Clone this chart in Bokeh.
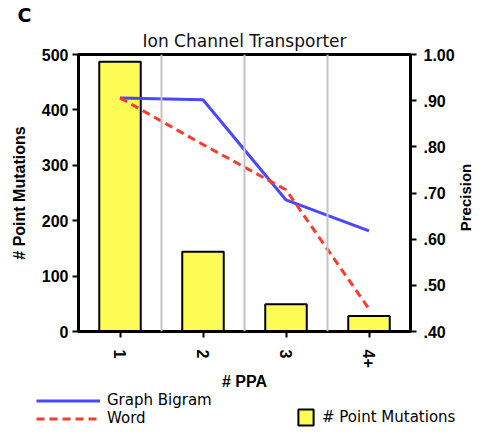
import math
from bokeh.plotting import figure
from bokeh.layouts import column, row
from bokeh.models import (Range1d, LinearAxis, FixedTicker, Span, Legend, LegendItem,
                          ColumnDataSource, FactorRange, Title, Label)
from bokeh.embed import file_html
from bokeh.resources import INLINE

categories = ["1", "2", "3", "4+"]
point_mutations = [487, 144, 49, 28]
graph_bigram = [0.906, 0.902, 0.685, 0.618]
word = [0.906, 0.805, 0.707, 0.449]
left_ticks = [0, 100, 200, 300, 400, 500]
right_ticks = [0.4, 0.5, 0.6, 0.7, 0.8, 0.9, 1.0]
right_tick_labels = [".40", ".50", ".60", ".70", ".80", ".90", "1.00"]

bar_style = dict(fill_color="#fcfc54", line_color="black", line_width=2)
gb_style = dict(line_color="#4848ff", line_width=3)
wd_style = dict(line_color="#ff3a2a", line_width=3, line_dash="8 5")

src = ColumnDataSource(dict(cat=categories, pm=point_mutations, gb=graph_bigram, wd=word))

W = 473
W3 = 16
H1 = 392
p = figure(width=W - W3, height=H1, x_range=FactorRange(*categories, range_padding=0),
           y_range=Range1d(0, 500), output_backend="svg", toolbar_location=None,
           min_border_left=78, min_border_right=W - W3 - 413, min_border_top=54,
           min_border_bottom=H1 - 336, title="C")
p.extra_y_ranges = {"prec": Range1d(0.4, 1.0)}

p.title.align = "left"
p.title.offset = -61
p.title.standoff = 0
p.title.text_font = "DejaVu Sans"
p.title.text_font_size = "19px"
p.title.text_font_style = "bold"
p.title.text_color = "black"
p.add_layout(Title(text="Ion Channel Transporter", align="center", standoff=7,
                   text_font="DejaVu Sans", text_font_style="normal", text_font_size="17px",
                   text_color="#111111"), "above")

p.outline_line_color = "black"
p.outline_line_width = 3
p.ygrid.grid_line_color = None
p.xgrid.grid_line_color = None

for i in range(1, len(categories)):
    p.add_layout(Span(location=i, dimension="height", line_color="#c4c4c4", line_width=2))

bars = p.vbar(x="cat", top="pm", width=0.5, source=src, **bar_style)
l1 = p.line(x="cat", y="gb", source=src, y_range_name="prec", **gb_style)
l2 = p.line(x="cat", y="wd", source=src, y_range_name="prec", **wd_style)

tick_font = "Liberation Sans"

ax = p.yaxis[0]
ax.ticker = FixedTicker(ticks=left_ticks)
ax.axis_label = "# Point Mutations"

r_axis = LinearAxis(y_range_name="prec", ticker=FixedTicker(ticks=right_ticks),
                    major_label_overrides={t: s for t, s in zip(right_ticks, right_tick_labels)})
p.add_layout(r_axis, "right")

xa = p.xaxis[0]
xa.axis_label = "# PPA"
xa.major_label_orientation = -math.pi / 2

for a in [ax, r_axis, xa]:
    a.axis_line_width = 3
    a.axis_line_color = "black"
    a.major_tick_line_width = 2
    a.major_tick_line_color = "black"
    a.major_tick_out = 6
    a.major_tick_in = 0
    a.minor_tick_line_color = None
    a.major_label_text_font = tick_font
    a.major_label_text_font_style = "bold"
    a.major_label_text_font_size = "16px"
    a.major_label_text_color = "black"
    a.axis_label_text_font = tick_font
    a.axis_label_text_font_style = "bold"
    a.axis_label_text_font_size = "16px"
    a.axis_label_text_color = "black"

ax.major_label_standoff = 4
ax.axis_label_standoff = 11
r_axis.major_label_standoff = 7
xa.major_label_standoff = 12
xa.axis_label_standoff = 2

# narrow strip at the right holding the right-axis title
p3 = figure(width=W3, height=H1, x_range=Range1d(0, W3), y_range=Range1d(0, H1),
            x_axis_type=None, y_axis_type=None, min_border=0, toolbar_location=None,
            output_backend="svg", outline_line_color=None)
try:
    p3.frame_align = False
except Exception:
    pass
p3.add_layout(Label(x=W3 / 2, y=H1 - 197, text="Precision", angle=math.pi / 2,
                    text_align="center", text_baseline="middle", text_font=tick_font,
                    text_font_style="bold", text_font_size="15px", text_color="black"))

# legend strip below the chart (hidden proxy renderers supply the legend swatches)
p2 = figure(width=W, height=428 - H1, x_range=FactorRange(*categories), y_range=Range1d(0, 1),
            x_axis_type=None, y_axis_type=None, min_border=0, toolbar_location=None,
            output_backend="svg", outline_line_color=None)
try:
    p2.frame_align = False
except Exception:
    pass
pb = p2.vbar(x="cat", top="pm", width=0.5, source=src, visible=False, **bar_style)
pg = p2.line(x="cat", y="gb", source=src, visible=False, **gb_style)
pw = p2.line(x="cat", y="wd", source=src, visible=False, **wd_style)

leg1 = Legend(items=[LegendItem(label="Graph Bigram", renderers=[pg]),
                     LegendItem(label="Word", renderers=[pw])],
              location=(36, 1))
leg2 = Legend(items=[LegendItem(label="# Point Mutations", renderers=[pb])],
              location=(296, 1))
for lg, gw, gh, lh in [(leg1, 64, 17, 17), (leg2, 19, 20, 20)]:
    lg.border_line_color = None
    lg.background_fill_alpha = 0
    lg.padding = 0
    lg.margin = 0
    lg.spacing = 0
    lg.glyph_width = gw
    lg.glyph_height = gh
    lg.label_height = lh
    lg.label_standoff = 7
    lg.label_text_font = "DejaVu Sans"
    lg.label_text_font_size = "15px"
    lg.label_text_color = "black"
    lg.click_policy = "none"
    p2.add_layout(lg)

layout = column(row(p, p3, spacing=0), p2, spacing=0)
open("out.html", "w").write(file_html(layout, INLINE))
